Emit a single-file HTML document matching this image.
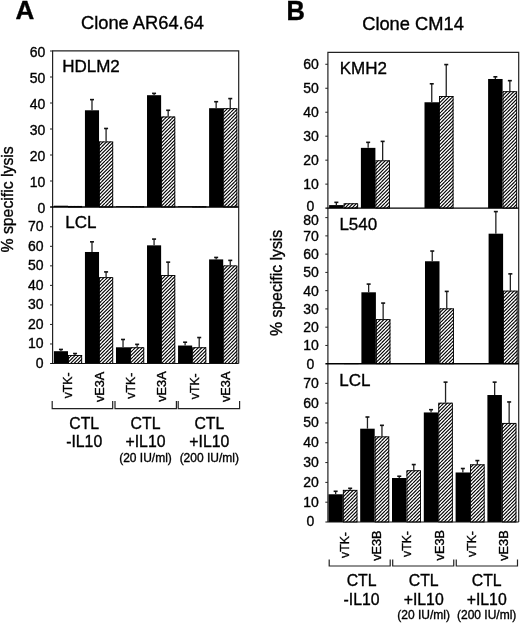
<!DOCTYPE html>
<html><head><meta charset="utf-8"><title>Figure</title>
<style>
html,body{margin:0;padding:0;background:#fff;}
body{width:520px;height:623px;overflow:hidden;}
svg{display:block;font-family:"Liberation Sans", sans-serif;will-change:transform;}
</style></head>
<body>
<svg width="520" height="623" viewBox="0 0 520 623">
<defs>
<pattern id="hatch" patternUnits="userSpaceOnUse" width="7" height="7">
<rect width="7" height="7" fill="#fff"/>
<path d="M-7 7 L0 0 M-3.5 7 L3.5 0 M0 7 L7 0 M3.5 7 L10.5 0 M7 7 L14 0" stroke="#000" stroke-width="1.15"/>
</pattern>
</defs>
<rect width="520" height="623" fill="#fff"/>
<rect x="53.9" y="205.7" width="14.1" height="1.3" fill="#000"/>
<rect x="68" y="205.96" width="14.1" height="1.04" fill="url(#hatch)"/>
<rect x="68.45" y="206.41" width="13.2" height="0.59" fill="none" stroke="#000" stroke-width="0.9"/>
<rect x="84.94" y="110.28" width="14.1" height="96.72" fill="#000"/>
<rect x="99.04" y="141.48" width="14.1" height="65.52" fill="url(#hatch)"/>
<rect x="99.49" y="141.93" width="13.2" height="65.07" fill="none" stroke="#000" stroke-width="0.9"/>
<line x1="91.99" y1="110.28" x2="91.99" y2="99.62" stroke="#222" stroke-width="1.3"/>
<line x1="89.99" y1="99.62" x2="93.99" y2="99.62" stroke="#111" stroke-width="1.6"/>
<line x1="106.09" y1="141.48" x2="106.09" y2="128.48" stroke="#222" stroke-width="1.3"/>
<line x1="104.09" y1="128.48" x2="108.09" y2="128.48" stroke="#111" stroke-width="1.6"/>
<rect x="115.98" y="206.22" width="14.1" height="0.78" fill="#000"/>
<rect x="130.08" y="206.22" width="14.1" height="0.78" fill="url(#hatch)"/>
<rect x="130.53" y="206.67" width="13.2" height="0.33" fill="none" stroke="#000" stroke-width="0.9"/>
<rect x="147.02" y="95.2" width="14.1" height="111.8" fill="#000"/>
<rect x="161.12" y="116.52" width="14.1" height="90.48" fill="url(#hatch)"/>
<rect x="161.57" y="116.97" width="13.2" height="90.03" fill="none" stroke="#000" stroke-width="0.9"/>
<line x1="154.07" y1="95.2" x2="154.07" y2="93.38" stroke="#222" stroke-width="1.3"/>
<line x1="152.07" y1="93.38" x2="156.07" y2="93.38" stroke="#111" stroke-width="1.6"/>
<line x1="168.17" y1="116.52" x2="168.17" y2="110.28" stroke="#222" stroke-width="1.3"/>
<line x1="166.17" y1="110.28" x2="170.17" y2="110.28" stroke="#111" stroke-width="1.6"/>
<rect x="178.06" y="206.22" width="14.1" height="0.78" fill="#000"/>
<rect x="192.16" y="206.22" width="14.1" height="0.78" fill="url(#hatch)"/>
<rect x="192.61" y="206.67" width="13.2" height="0.33" fill="none" stroke="#000" stroke-width="0.9"/>
<rect x="209.1" y="108.2" width="14.1" height="98.8" fill="#000"/>
<rect x="223.2" y="108.2" width="14.1" height="98.8" fill="url(#hatch)"/>
<rect x="223.65" y="108.65" width="13.2" height="98.35" fill="none" stroke="#000" stroke-width="0.9"/>
<line x1="216.15" y1="108.2" x2="216.15" y2="101.7" stroke="#222" stroke-width="1.3"/>
<line x1="214.15" y1="101.7" x2="218.15" y2="101.7" stroke="#111" stroke-width="1.6"/>
<line x1="230.25" y1="108.2" x2="230.25" y2="98.58" stroke="#222" stroke-width="1.3"/>
<line x1="228.25" y1="98.58" x2="232.25" y2="98.58" stroke="#111" stroke-width="1.6"/>
<rect x="53.9" y="351.2" width="14.1" height="12.3" fill="#000"/>
<rect x="68" y="355" width="14.1" height="8.5" fill="url(#hatch)"/>
<rect x="68.45" y="355.45" width="13.2" height="8.05" fill="none" stroke="#000" stroke-width="0.9"/>
<line x1="60.95" y1="351.2" x2="60.95" y2="349.44" stroke="#222" stroke-width="1.3"/>
<line x1="58.95" y1="349.44" x2="62.95" y2="349.44" stroke="#111" stroke-width="1.6"/>
<line x1="75.05" y1="355" x2="75.05" y2="353.54" stroke="#222" stroke-width="1.3"/>
<line x1="73.05" y1="353.54" x2="77.05" y2="353.54" stroke="#111" stroke-width="1.6"/>
<rect x="84.94" y="251.98" width="14.1" height="111.52" fill="#000"/>
<rect x="99.04" y="277.18" width="14.1" height="86.32" fill="url(#hatch)"/>
<rect x="99.49" y="277.63" width="13.2" height="85.87" fill="none" stroke="#000" stroke-width="0.9"/>
<line x1="91.99" y1="251.98" x2="91.99" y2="241.83" stroke="#222" stroke-width="1.3"/>
<line x1="89.99" y1="241.83" x2="93.99" y2="241.83" stroke="#111" stroke-width="1.6"/>
<line x1="106.09" y1="277.18" x2="106.09" y2="271.9" stroke="#222" stroke-width="1.3"/>
<line x1="104.09" y1="271.9" x2="108.09" y2="271.9" stroke="#111" stroke-width="1.6"/>
<rect x="115.98" y="347.29" width="14.1" height="16.21" fill="#000"/>
<rect x="130.08" y="347.29" width="14.1" height="16.21" fill="url(#hatch)"/>
<rect x="130.53" y="347.74" width="13.2" height="15.76" fill="none" stroke="#000" stroke-width="0.9"/>
<line x1="123.03" y1="347.29" x2="123.03" y2="339.48" stroke="#222" stroke-width="1.3"/>
<line x1="121.03" y1="339.48" x2="125.03" y2="339.48" stroke="#111" stroke-width="1.6"/>
<line x1="137.13" y1="347.29" x2="137.13" y2="344.36" stroke="#222" stroke-width="1.3"/>
<line x1="135.13" y1="344.36" x2="139.13" y2="344.36" stroke="#111" stroke-width="1.6"/>
<rect x="147.02" y="245.34" width="14.1" height="118.16" fill="#000"/>
<rect x="161.12" y="275.03" width="14.1" height="88.47" fill="url(#hatch)"/>
<rect x="161.57" y="275.48" width="13.2" height="88.02" fill="none" stroke="#000" stroke-width="0.9"/>
<line x1="154.07" y1="245.34" x2="154.07" y2="239.09" stroke="#222" stroke-width="1.3"/>
<line x1="152.07" y1="239.09" x2="156.07" y2="239.09" stroke="#111" stroke-width="1.6"/>
<line x1="168.17" y1="275.03" x2="168.17" y2="262.14" stroke="#222" stroke-width="1.3"/>
<line x1="166.17" y1="262.14" x2="170.17" y2="262.14" stroke="#111" stroke-width="1.6"/>
<rect x="178.06" y="345.53" width="14.1" height="17.97" fill="#000"/>
<rect x="192.16" y="347.29" width="14.1" height="16.21" fill="url(#hatch)"/>
<rect x="192.61" y="347.74" width="13.2" height="15.76" fill="none" stroke="#000" stroke-width="0.9"/>
<line x1="185.11" y1="345.53" x2="185.11" y2="342.21" stroke="#222" stroke-width="1.3"/>
<line x1="183.11" y1="342.21" x2="187.11" y2="342.21" stroke="#111" stroke-width="1.6"/>
<line x1="199.21" y1="347.29" x2="199.21" y2="337.53" stroke="#222" stroke-width="1.3"/>
<line x1="197.21" y1="337.53" x2="201.21" y2="337.53" stroke="#111" stroke-width="1.6"/>
<rect x="209.1" y="259.41" width="14.1" height="104.09" fill="#000"/>
<rect x="223.2" y="265.46" width="14.1" height="98.04" fill="url(#hatch)"/>
<rect x="223.65" y="265.91" width="13.2" height="97.59" fill="none" stroke="#000" stroke-width="0.9"/>
<line x1="216.15" y1="259.41" x2="216.15" y2="257.45" stroke="#222" stroke-width="1.3"/>
<line x1="214.15" y1="257.45" x2="218.15" y2="257.45" stroke="#111" stroke-width="1.6"/>
<line x1="230.25" y1="265.46" x2="230.25" y2="260.38" stroke="#222" stroke-width="1.3"/>
<line x1="228.25" y1="260.38" x2="232.25" y2="260.38" stroke="#111" stroke-width="1.6"/>
<path d="M52.6 363.5 V50.9 H238.7 V363.5" fill="none" stroke="#222" stroke-width="1.2"/>
<line x1="50.1" y1="207.0" x2="238.7" y2="207.0" stroke="#000" stroke-width="1.6"/>
<line x1="50.1" y1="363.5" x2="238.7" y2="363.5" stroke="#111" stroke-width="1.1"/>
<line x1="50" y1="181" x2="52.6" y2="181" stroke="#222" stroke-width="1"/>
<line x1="50" y1="155" x2="52.6" y2="155" stroke="#222" stroke-width="1"/>
<line x1="50" y1="129" x2="52.6" y2="129" stroke="#222" stroke-width="1"/>
<line x1="50" y1="103" x2="52.6" y2="103" stroke="#222" stroke-width="1"/>
<line x1="50" y1="77" x2="52.6" y2="77" stroke="#222" stroke-width="1"/>
<line x1="50" y1="51" x2="52.6" y2="51" stroke="#222" stroke-width="1"/>
<line x1="50" y1="343.97" x2="52.6" y2="343.97" stroke="#222" stroke-width="1"/>
<line x1="50" y1="324.44" x2="52.6" y2="324.44" stroke="#222" stroke-width="1"/>
<line x1="50" y1="304.91" x2="52.6" y2="304.91" stroke="#222" stroke-width="1"/>
<line x1="50" y1="285.38" x2="52.6" y2="285.38" stroke="#222" stroke-width="1"/>
<line x1="50" y1="265.85" x2="52.6" y2="265.85" stroke="#222" stroke-width="1"/>
<line x1="50" y1="246.32" x2="52.6" y2="246.32" stroke="#222" stroke-width="1"/>
<line x1="50" y1="226.79" x2="52.6" y2="226.79" stroke="#222" stroke-width="1"/>
<rect x="329.1" y="205.1" width="14.5" height="3" fill="#000"/>
<rect x="343.6" y="203.3" width="14.5" height="4.8" fill="url(#hatch)"/>
<rect x="344.05" y="203.75" width="13.6" height="4.35" fill="none" stroke="#000" stroke-width="0.9"/>
<line x1="336.35" y1="205.1" x2="336.35" y2="202.34" stroke="#222" stroke-width="1.3"/>
<line x1="334.35" y1="202.34" x2="338.35" y2="202.34" stroke="#111" stroke-width="1.6"/>
<rect x="360.9" y="147.86" width="14.5" height="60.24" fill="#000"/>
<rect x="375.4" y="160.34" width="14.5" height="47.76" fill="url(#hatch)"/>
<rect x="375.85" y="160.79" width="13.6" height="47.31" fill="none" stroke="#000" stroke-width="0.9"/>
<line x1="368.15" y1="147.86" x2="368.15" y2="142.34" stroke="#222" stroke-width="1.3"/>
<line x1="366.15" y1="142.34" x2="370.15" y2="142.34" stroke="#111" stroke-width="1.6"/>
<line x1="382.65" y1="160.34" x2="382.65" y2="141.38" stroke="#222" stroke-width="1.3"/>
<line x1="380.65" y1="141.38" x2="384.65" y2="141.38" stroke="#111" stroke-width="1.6"/>
<rect x="424.5" y="102.26" width="14.5" height="105.84" fill="#000"/>
<rect x="439" y="96.02" width="14.5" height="112.08" fill="url(#hatch)"/>
<rect x="439.45" y="96.47" width="13.6" height="111.63" fill="none" stroke="#000" stroke-width="0.9"/>
<line x1="431.75" y1="102.26" x2="431.75" y2="83.78" stroke="#222" stroke-width="1.3"/>
<line x1="429.75" y1="83.78" x2="433.75" y2="83.78" stroke="#111" stroke-width="1.6"/>
<line x1="446.25" y1="96.02" x2="446.25" y2="64.58" stroke="#222" stroke-width="1.3"/>
<line x1="444.25" y1="64.58" x2="448.25" y2="64.58" stroke="#111" stroke-width="1.6"/>
<rect x="488.1" y="78.98" width="14.5" height="129.12" fill="#000"/>
<rect x="502.6" y="91.22" width="14.5" height="116.88" fill="url(#hatch)"/>
<rect x="503.05" y="91.67" width="13.6" height="116.43" fill="none" stroke="#000" stroke-width="0.9"/>
<line x1="495.35" y1="78.98" x2="495.35" y2="76.82" stroke="#222" stroke-width="1.3"/>
<line x1="493.35" y1="76.82" x2="497.35" y2="76.82" stroke="#111" stroke-width="1.6"/>
<line x1="509.85" y1="91.22" x2="509.85" y2="80.66" stroke="#222" stroke-width="1.3"/>
<line x1="507.85" y1="80.66" x2="511.85" y2="80.66" stroke="#111" stroke-width="1.6"/>
<rect x="329.6" y="363.15" width="14.5" height="0.55" fill="#000"/>
<rect x="344.1" y="363.15" width="14.5" height="0.55" fill="url(#hatch)"/>
<rect x="344.55" y="363.6" width="13.6" height="0.1" fill="none" stroke="#000" stroke-width="0.9"/>
<rect x="361.4" y="292.3" width="14.5" height="71.4" fill="#000"/>
<rect x="375.9" y="319.15" width="14.5" height="44.55" fill="url(#hatch)"/>
<rect x="376.35" y="319.6" width="13.6" height="44.1" fill="none" stroke="#000" stroke-width="0.9"/>
<line x1="368.65" y1="292.3" x2="368.65" y2="284.09" stroke="#222" stroke-width="1.3"/>
<line x1="366.65" y1="284.09" x2="370.65" y2="284.09" stroke="#111" stroke-width="1.6"/>
<line x1="383.15" y1="319.15" x2="383.15" y2="303.08" stroke="#222" stroke-width="1.3"/>
<line x1="381.15" y1="303.08" x2="385.15" y2="303.08" stroke="#111" stroke-width="1.6"/>
<rect x="425" y="261.26" width="14.5" height="102.44" fill="#000"/>
<rect x="439.5" y="308.37" width="14.5" height="55.33" fill="url(#hatch)"/>
<rect x="439.95" y="308.82" width="13.6" height="54.88" fill="none" stroke="#000" stroke-width="0.9"/>
<line x1="432.25" y1="261.26" x2="432.25" y2="251.04" stroke="#222" stroke-width="1.3"/>
<line x1="430.25" y1="251.04" x2="434.25" y2="251.04" stroke="#111" stroke-width="1.6"/>
<line x1="446.75" y1="308.37" x2="446.75" y2="291.39" stroke="#222" stroke-width="1.3"/>
<line x1="444.75" y1="291.39" x2="448.75" y2="291.39" stroke="#111" stroke-width="1.6"/>
<rect x="488.6" y="233.69" width="14.5" height="130.01" fill="#000"/>
<rect x="503.1" y="290.66" width="14.5" height="73.04" fill="url(#hatch)"/>
<rect x="503.55" y="291.11" width="13.6" height="72.59" fill="none" stroke="#000" stroke-width="0.9"/>
<line x1="495.85" y1="233.69" x2="495.85" y2="211.59" stroke="#222" stroke-width="1.3"/>
<line x1="493.85" y1="211.59" x2="497.85" y2="211.59" stroke="#111" stroke-width="1.6"/>
<line x1="510.35" y1="290.66" x2="510.35" y2="273.86" stroke="#222" stroke-width="1.3"/>
<line x1="508.35" y1="273.86" x2="512.35" y2="273.86" stroke="#111" stroke-width="1.6"/>
<rect x="328.4" y="494.27" width="14.5" height="27.73" fill="#000"/>
<rect x="342.9" y="489.91" width="14.5" height="32.09" fill="url(#hatch)"/>
<rect x="343.35" y="490.36" width="13.6" height="31.64" fill="none" stroke="#000" stroke-width="0.9"/>
<line x1="335.65" y1="494.27" x2="335.65" y2="491.29" stroke="#222" stroke-width="1.3"/>
<line x1="333.65" y1="491.29" x2="337.65" y2="491.29" stroke="#111" stroke-width="1.6"/>
<line x1="350.15" y1="489.91" x2="350.15" y2="488.32" stroke="#222" stroke-width="1.3"/>
<line x1="348.15" y1="488.32" x2="352.15" y2="488.32" stroke="#111" stroke-width="1.6"/>
<rect x="360.2" y="428.69" width="14.5" height="93.31" fill="#000"/>
<rect x="374.7" y="436.42" width="14.5" height="85.58" fill="url(#hatch)"/>
<rect x="375.15" y="436.87" width="13.6" height="85.13" fill="none" stroke="#000" stroke-width="0.9"/>
<line x1="367.45" y1="428.69" x2="367.45" y2="417.01" stroke="#222" stroke-width="1.3"/>
<line x1="365.45" y1="417.01" x2="369.45" y2="417.01" stroke="#111" stroke-width="1.6"/>
<line x1="381.95" y1="436.42" x2="381.95" y2="425.33" stroke="#222" stroke-width="1.3"/>
<line x1="379.95" y1="425.33" x2="383.95" y2="425.33" stroke="#111" stroke-width="1.6"/>
<rect x="392" y="478.02" width="14.5" height="43.98" fill="#000"/>
<rect x="406.5" y="470.3" width="14.5" height="51.7" fill="url(#hatch)"/>
<rect x="406.95" y="470.75" width="13.6" height="51.25" fill="none" stroke="#000" stroke-width="0.9"/>
<line x1="399.25" y1="478.02" x2="399.25" y2="476.24" stroke="#222" stroke-width="1.3"/>
<line x1="397.25" y1="476.24" x2="401.25" y2="476.24" stroke="#111" stroke-width="1.6"/>
<line x1="413.75" y1="470.3" x2="413.75" y2="464.55" stroke="#222" stroke-width="1.3"/>
<line x1="411.75" y1="464.55" x2="415.75" y2="464.55" stroke="#111" stroke-width="1.6"/>
<rect x="423.8" y="412.45" width="14.5" height="109.55" fill="#000"/>
<rect x="438.3" y="402.74" width="14.5" height="119.26" fill="url(#hatch)"/>
<rect x="438.75" y="403.19" width="13.6" height="118.81" fill="none" stroke="#000" stroke-width="0.9"/>
<line x1="431.05" y1="412.45" x2="431.05" y2="409.68" stroke="#222" stroke-width="1.3"/>
<line x1="429.05" y1="409.68" x2="433.05" y2="409.68" stroke="#111" stroke-width="1.6"/>
<line x1="445.55" y1="402.74" x2="445.55" y2="382.14" stroke="#222" stroke-width="1.3"/>
<line x1="443.55" y1="382.14" x2="447.55" y2="382.14" stroke="#111" stroke-width="1.6"/>
<rect x="455.6" y="472.48" width="14.5" height="49.53" fill="#000"/>
<rect x="470.1" y="464.35" width="14.5" height="57.65" fill="url(#hatch)"/>
<rect x="470.55" y="464.8" width="13.6" height="57.2" fill="none" stroke="#000" stroke-width="0.9"/>
<line x1="462.85" y1="472.48" x2="462.85" y2="468.51" stroke="#222" stroke-width="1.3"/>
<line x1="460.85" y1="468.51" x2="464.85" y2="468.51" stroke="#111" stroke-width="1.6"/>
<line x1="477.35" y1="464.35" x2="477.35" y2="460.59" stroke="#222" stroke-width="1.3"/>
<line x1="475.35" y1="460.59" x2="479.35" y2="460.59" stroke="#111" stroke-width="1.6"/>
<rect x="487.4" y="395.02" width="14.5" height="126.98" fill="#000"/>
<rect x="501.9" y="422.95" width="14.5" height="99.05" fill="url(#hatch)"/>
<rect x="502.35" y="423.4" width="13.6" height="98.6" fill="none" stroke="#000" stroke-width="0.9"/>
<line x1="494.65" y1="395.02" x2="494.65" y2="382.14" stroke="#222" stroke-width="1.3"/>
<line x1="492.65" y1="382.14" x2="496.65" y2="382.14" stroke="#111" stroke-width="1.6"/>
<line x1="509.15" y1="422.95" x2="509.15" y2="401.95" stroke="#222" stroke-width="1.3"/>
<line x1="507.15" y1="401.95" x2="511.15" y2="401.95" stroke="#111" stroke-width="1.6"/>
<path d="M327.9 522.0 V52.3 H518.7 V522.0" fill="none" stroke="#222" stroke-width="1.2"/>
<line x1="325.4" y1="208.1" x2="518.7" y2="208.1" stroke="#000" stroke-width="1.15"/>
<line x1="325.4" y1="363.7" x2="518.7" y2="363.7" stroke="#000" stroke-width="1.5"/>
<line x1="325.4" y1="522.0" x2="518.7" y2="522.0" stroke="#111" stroke-width="1.1"/>
<line x1="325.3" y1="184.13" x2="327.9" y2="184.13" stroke="#222" stroke-width="1"/>
<line x1="325.3" y1="160.16" x2="327.9" y2="160.16" stroke="#222" stroke-width="1"/>
<line x1="325.3" y1="136.19" x2="327.9" y2="136.19" stroke="#222" stroke-width="1"/>
<line x1="325.3" y1="112.22" x2="327.9" y2="112.22" stroke="#222" stroke-width="1"/>
<line x1="325.3" y1="88.25" x2="327.9" y2="88.25" stroke="#222" stroke-width="1"/>
<line x1="325.3" y1="64.28" x2="327.9" y2="64.28" stroke="#222" stroke-width="1"/>
<line x1="325.3" y1="345.44" x2="327.9" y2="345.44" stroke="#222" stroke-width="1"/>
<line x1="325.3" y1="327.18" x2="327.9" y2="327.18" stroke="#222" stroke-width="1"/>
<line x1="325.3" y1="308.92" x2="327.9" y2="308.92" stroke="#222" stroke-width="1"/>
<line x1="325.3" y1="290.66" x2="327.9" y2="290.66" stroke="#222" stroke-width="1"/>
<line x1="325.3" y1="272.4" x2="327.9" y2="272.4" stroke="#222" stroke-width="1"/>
<line x1="325.3" y1="254.14" x2="327.9" y2="254.14" stroke="#222" stroke-width="1"/>
<line x1="325.3" y1="235.88" x2="327.9" y2="235.88" stroke="#222" stroke-width="1"/>
<line x1="325.3" y1="217.62" x2="327.9" y2="217.62" stroke="#222" stroke-width="1"/>
<line x1="325.3" y1="502.19" x2="327.9" y2="502.19" stroke="#222" stroke-width="1"/>
<line x1="325.3" y1="482.38" x2="327.9" y2="482.38" stroke="#222" stroke-width="1"/>
<line x1="325.3" y1="462.57" x2="327.9" y2="462.57" stroke="#222" stroke-width="1"/>
<line x1="325.3" y1="442.76" x2="327.9" y2="442.76" stroke="#222" stroke-width="1"/>
<line x1="325.3" y1="422.95" x2="327.9" y2="422.95" stroke="#222" stroke-width="1"/>
<line x1="325.3" y1="403.14" x2="327.9" y2="403.14" stroke="#222" stroke-width="1"/>
<line x1="325.3" y1="383.33" x2="327.9" y2="383.33" stroke="#222" stroke-width="1"/>
<text x="45.4" y="213.1" font-size="14" text-anchor="end" font-weight="normal" fill="#000" stroke="#000" stroke-width="0.35">0</text>
<text x="45.4" y="187.1" font-size="14" text-anchor="end" font-weight="normal" fill="#000" stroke="#000" stroke-width="0.35">10</text>
<text x="45.4" y="161.1" font-size="14" text-anchor="end" font-weight="normal" fill="#000" stroke="#000" stroke-width="0.35">20</text>
<text x="45.4" y="135.1" font-size="14" text-anchor="end" font-weight="normal" fill="#000" stroke="#000" stroke-width="0.35">30</text>
<text x="45.4" y="109.1" font-size="14" text-anchor="end" font-weight="normal" fill="#000" stroke="#000" stroke-width="0.35">40</text>
<text x="45.4" y="83.1" font-size="14" text-anchor="end" font-weight="normal" fill="#000" stroke="#000" stroke-width="0.35">50</text>
<text x="45.4" y="57.1" font-size="14" text-anchor="end" font-weight="normal" fill="#000" stroke="#000" stroke-width="0.35">60</text>
<text x="43.5" y="367.7" font-size="14" text-anchor="end" font-weight="normal" fill="#000" stroke="#000" stroke-width="0.35">0</text>
<text x="43.5" y="348.17" font-size="14" text-anchor="end" font-weight="normal" fill="#000" stroke="#000" stroke-width="0.35">10</text>
<text x="43.5" y="328.64" font-size="14" text-anchor="end" font-weight="normal" fill="#000" stroke="#000" stroke-width="0.35">20</text>
<text x="43.5" y="309.11" font-size="14" text-anchor="end" font-weight="normal" fill="#000" stroke="#000" stroke-width="0.35">30</text>
<text x="43.5" y="289.58" font-size="14" text-anchor="end" font-weight="normal" fill="#000" stroke="#000" stroke-width="0.35">40</text>
<text x="43.5" y="270.05" font-size="14" text-anchor="end" font-weight="normal" fill="#000" stroke="#000" stroke-width="0.35">50</text>
<text x="43.5" y="250.52" font-size="14" text-anchor="end" font-weight="normal" fill="#000" stroke="#000" stroke-width="0.35">60</text>
<text x="43.5" y="230.99" font-size="14" text-anchor="end" font-weight="normal" fill="#000" stroke="#000" stroke-width="0.35">70</text>
<text x="310.4" y="211.1" font-size="14" text-anchor="middle" font-weight="normal" fill="#000" stroke="#000" stroke-width="0.35">0</text>
<text x="318.8" y="189.13" font-size="14" text-anchor="end" font-weight="normal" fill="#000" stroke="#000" stroke-width="0.35">10</text>
<text x="318.8" y="165.16" font-size="14" text-anchor="end" font-weight="normal" fill="#000" stroke="#000" stroke-width="0.35">20</text>
<text x="318.8" y="141.19" font-size="14" text-anchor="end" font-weight="normal" fill="#000" stroke="#000" stroke-width="0.35">30</text>
<text x="318.8" y="117.22" font-size="14" text-anchor="end" font-weight="normal" fill="#000" stroke="#000" stroke-width="0.35">40</text>
<text x="318.8" y="93.25" font-size="14" text-anchor="end" font-weight="normal" fill="#000" stroke="#000" stroke-width="0.35">50</text>
<text x="318.8" y="69.28" font-size="14" text-anchor="end" font-weight="normal" fill="#000" stroke="#000" stroke-width="0.35">60</text>
<text x="310.4" y="368.7" font-size="14" text-anchor="middle" font-weight="normal" fill="#000" stroke="#000" stroke-width="0.35">0</text>
<text x="318.8" y="350.44" font-size="14" text-anchor="end" font-weight="normal" fill="#000" stroke="#000" stroke-width="0.35">10</text>
<text x="318.8" y="332.18" font-size="14" text-anchor="end" font-weight="normal" fill="#000" stroke="#000" stroke-width="0.35">20</text>
<text x="318.8" y="313.92" font-size="14" text-anchor="end" font-weight="normal" fill="#000" stroke="#000" stroke-width="0.35">30</text>
<text x="318.8" y="295.66" font-size="14" text-anchor="end" font-weight="normal" fill="#000" stroke="#000" stroke-width="0.35">40</text>
<text x="318.8" y="277.4" font-size="14" text-anchor="end" font-weight="normal" fill="#000" stroke="#000" stroke-width="0.35">50</text>
<text x="318.8" y="259.14" font-size="14" text-anchor="end" font-weight="normal" fill="#000" stroke="#000" stroke-width="0.35">60</text>
<text x="318.8" y="240.88" font-size="14" text-anchor="end" font-weight="normal" fill="#000" stroke="#000" stroke-width="0.35">70</text>
<text x="318.8" y="224.62" font-size="14" text-anchor="end" font-weight="normal" fill="#000" stroke="#000" stroke-width="0.35">80</text>
<text x="310.4" y="526.4" font-size="14" text-anchor="middle" font-weight="normal" fill="#000" stroke="#000" stroke-width="0.35">0</text>
<text x="318.8" y="506.59" font-size="14" text-anchor="end" font-weight="normal" fill="#000" stroke="#000" stroke-width="0.35">10</text>
<text x="318.8" y="486.78" font-size="14" text-anchor="end" font-weight="normal" fill="#000" stroke="#000" stroke-width="0.35">20</text>
<text x="318.8" y="466.97" font-size="14" text-anchor="end" font-weight="normal" fill="#000" stroke="#000" stroke-width="0.35">30</text>
<text x="318.8" y="447.16" font-size="14" text-anchor="end" font-weight="normal" fill="#000" stroke="#000" stroke-width="0.35">40</text>
<text x="318.8" y="427.35" font-size="14" text-anchor="end" font-weight="normal" fill="#000" stroke="#000" stroke-width="0.35">50</text>
<text x="318.8" y="407.54" font-size="14" text-anchor="end" font-weight="normal" fill="#000" stroke="#000" stroke-width="0.35">60</text>
<text x="318.8" y="387.73" font-size="14" text-anchor="end" font-weight="normal" fill="#000" stroke="#000" stroke-width="0.35">70</text>
<text x="15.5" y="18.9" font-size="26" text-anchor="start" font-weight="bold" fill="#000" stroke="#000" stroke-width="0.35">A</text>
<text x="286.6" y="19.5" font-size="27.2" font-weight="bold" fill="#000" stroke="#000" stroke-width="0.35" textLength="18.4" lengthAdjust="spacingAndGlyphs">B</text>
<text x="142.5" y="28.9" font-size="18.3" text-anchor="middle" font-weight="normal" fill="#000" stroke="#000" stroke-width="0.35">Clone AR64.64</text>
<text x="413" y="29.6" font-size="18.3" text-anchor="middle" font-weight="normal" fill="#000" stroke="#000" stroke-width="0.35">Clone CM14</text>
<text x="62.2" y="71.8" font-size="17" text-anchor="start" font-weight="normal" fill="#000" stroke="#000" stroke-width="0.35">HDLM2</text>
<text x="65.2" y="227.9" font-size="17" text-anchor="start" font-weight="normal" fill="#000" stroke="#000" stroke-width="0.35">LCL</text>
<text x="339.7" y="73.8" font-size="17" text-anchor="start" font-weight="normal" fill="#000" stroke="#000" stroke-width="0.35">KMH2</text>
<text x="339.4" y="229.5" font-size="17" text-anchor="start" font-weight="normal" fill="#000" stroke="#000" stroke-width="0.35">L540</text>
<text x="339.3" y="385.9" font-size="17" text-anchor="start" font-weight="normal" fill="#000" stroke="#000" stroke-width="0.35">LCL</text>
<text x="13.2" y="199.4" font-size="15.8" text-anchor="middle" font-weight="normal" fill="#000" stroke="#000" stroke-width="0.35" transform="rotate(-90 13.2 199.4)">% specific lysis</text>
<text x="282.2" y="282.9" font-size="15.8" text-anchor="middle" font-weight="normal" fill="#000" stroke="#000" stroke-width="0.35" transform="rotate(-90 282.2 282.9)">% specific lysis</text>
<text x="71.7" y="385.3" font-size="12.3" text-anchor="middle" font-weight="normal" fill="#000" stroke="#000" stroke-width="0.35" transform="rotate(-90 71.7 385.3)">vTK-</text>
<text x="103.9" y="386.95" font-size="12.7" text-anchor="middle" font-weight="normal" fill="#000" stroke="#000" stroke-width="0.35" transform="rotate(-90 103.9 386.95)">vE3A</text>
<text x="134.5" y="385.75" font-size="12.3" text-anchor="middle" font-weight="normal" fill="#000" stroke="#000" stroke-width="0.35" transform="rotate(-90 134.5 385.75)">vTK-</text>
<text x="166.3" y="386.55" font-size="12.7" text-anchor="middle" font-weight="normal" fill="#000" stroke="#000" stroke-width="0.35" transform="rotate(-90 166.3 386.55)">vE3A</text>
<text x="198.6" y="386.25" font-size="12.3" text-anchor="middle" font-weight="normal" fill="#000" stroke="#000" stroke-width="0.35" transform="rotate(-90 198.6 386.25)">vTK-</text>
<text x="229.8" y="386.8" font-size="12.7" text-anchor="middle" font-weight="normal" fill="#000" stroke="#000" stroke-width="0.35" transform="rotate(-90 229.8 386.8)">vE3A</text>
<text x="349.2" y="545" font-size="12.3" text-anchor="middle" font-weight="normal" fill="#000" stroke="#000" stroke-width="0.35" transform="rotate(-90 349.2 545)">vTK-</text>
<text x="381.2" y="545.6" font-size="12.7" text-anchor="middle" font-weight="normal" fill="#000" stroke="#000" stroke-width="0.35" transform="rotate(-90 381.2 545.6)">vE3B</text>
<text x="411.2" y="544" font-size="12.3" text-anchor="middle" font-weight="normal" fill="#000" stroke="#000" stroke-width="0.35" transform="rotate(-90 411.2 544)">vTK-</text>
<text x="444.2" y="545.25" font-size="12.7" text-anchor="middle" font-weight="normal" fill="#000" stroke="#000" stroke-width="0.35" transform="rotate(-90 444.2 545.25)">vE3B</text>
<text x="475.6" y="544" font-size="12.3" text-anchor="middle" font-weight="normal" fill="#000" stroke="#000" stroke-width="0.35" transform="rotate(-90 475.6 544)">vTK-</text>
<text x="507.8" y="545.55" font-size="12.7" text-anchor="middle" font-weight="normal" fill="#000" stroke="#000" stroke-width="0.35" transform="rotate(-90 507.8 545.55)">vE3B</text>
<path d="M52.2 401 V408.6 H112.7 V401" fill="none" stroke="#222" stroke-width="1.2"/>
<path d="M115 401 V408.6 H176.4 V401" fill="none" stroke="#222" stroke-width="1.2"/>
<path d="M178.2 401 V408.6 H239.6 V401" fill="none" stroke="#222" stroke-width="1.2"/>
<path d="M329.2 559.4 V566 H390.2 V559.4" fill="none" stroke="#222" stroke-width="1.2"/>
<path d="M392.7 559.4 V566 H453.75 V559.4" fill="none" stroke="#222" stroke-width="1.2"/>
<path d="M456.25 559.4 V566 H517.5 V559.4" fill="none" stroke="#222" stroke-width="1.2"/>
<text x="84.2" y="428.6" font-size="15.8" text-anchor="middle" font-weight="normal" fill="#000" stroke="#000" stroke-width="0.35">CTL</text>
<text x="84.2" y="446.9" font-size="15.8" text-anchor="middle" font-weight="normal" fill="#000" stroke="#000" stroke-width="0.35">-IL10</text>
<text x="145.5" y="428.6" font-size="15.8" text-anchor="middle" font-weight="normal" fill="#000" stroke="#000" stroke-width="0.35">CTL</text>
<text x="145.5" y="446.9" font-size="15.8" text-anchor="middle" font-weight="normal" fill="#000" stroke="#000" stroke-width="0.35">+IL10</text>
<text x="145.5" y="462.3" font-size="12" text-anchor="middle" font-weight="normal" fill="#000" stroke="#000" stroke-width="0.35">(20 IU/ml)</text>
<text x="209.3" y="428.6" font-size="15.8" text-anchor="middle" font-weight="normal" fill="#000" stroke="#000" stroke-width="0.35">CTL</text>
<text x="209.3" y="446.9" font-size="15.8" text-anchor="middle" font-weight="normal" fill="#000" stroke="#000" stroke-width="0.35">+IL10</text>
<text x="209.3" y="462.3" font-size="12" text-anchor="middle" font-weight="normal" fill="#000" stroke="#000" stroke-width="0.35">(200 IU/ml)</text>
<text x="361.6" y="586" font-size="15.8" text-anchor="middle" font-weight="normal" fill="#000" stroke="#000" stroke-width="0.35">CTL</text>
<text x="361.6" y="605" font-size="15.8" text-anchor="middle" font-weight="normal" fill="#000" stroke="#000" stroke-width="0.35">-IL10</text>
<text x="423.7" y="586" font-size="15.8" text-anchor="middle" font-weight="normal" fill="#000" stroke="#000" stroke-width="0.35">CTL</text>
<text x="423.7" y="605" font-size="15.8" text-anchor="middle" font-weight="normal" fill="#000" stroke="#000" stroke-width="0.35">+IL10</text>
<text x="423.7" y="619.3" font-size="12" text-anchor="middle" font-weight="normal" fill="#000" stroke="#000" stroke-width="0.35">(20 IU/ml)</text>
<text x="486.7" y="586" font-size="15.8" text-anchor="middle" font-weight="normal" fill="#000" stroke="#000" stroke-width="0.35">CTL</text>
<text x="486.7" y="605" font-size="15.8" text-anchor="middle" font-weight="normal" fill="#000" stroke="#000" stroke-width="0.35">+IL10</text>
<text x="486.7" y="619.3" font-size="12" text-anchor="middle" font-weight="normal" fill="#000" stroke="#000" stroke-width="0.35">(200 IU/ml)</text>
</svg>
</body></html>
